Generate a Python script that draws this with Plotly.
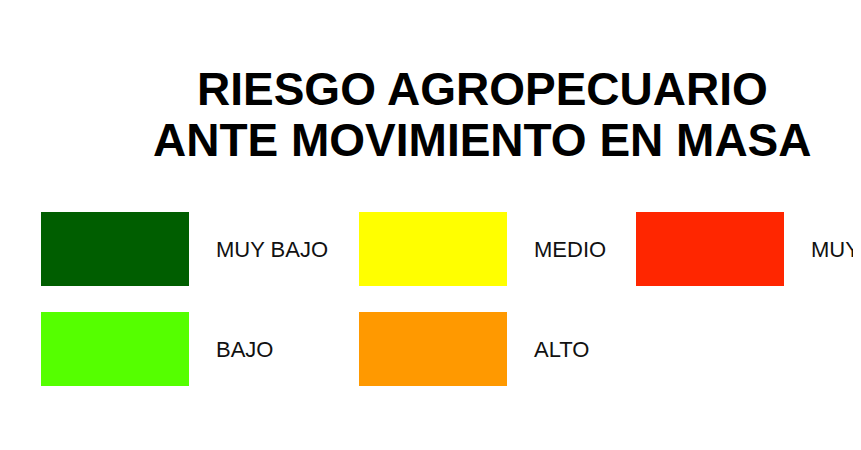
import plotly.graph_objects as go

# ---- data ----
categories = ["MUY BAJO", "BAJO", "MEDIO", "ALTO", "MUY ALTO"]
colors = ["#005E00", "#55FF00", "#FFFF00", "#FF9900", "#FF2600"]
title_lines = ["RIESGO AGROPECUARIO", "ANTE MOVIMIENTO EN MASA"]

# ---- layout constants (screen pixel space; page body has an 8px margin) ----
W, H = 861, 450
OFF = 8
col_left = [41, 359, 636]
row_top = [212, 312]
sw_w, sw_h = 148, 74
label_gap = 27
label_dy = 2

xs, bases, lx, ly = [], [], [], []
for i, cat in enumerate(categories):
    c, r = divmod(i, 2)
    xs.append(col_left[c] + sw_w / 2)
    bases.append(row_top[r])
    lx.append(col_left[c] + sw_w + label_gap)
    ly.append(row_top[r] + sw_h / 2 + label_dy)

fig = go.Figure()
fig.add_trace(go.Bar(
    x=xs, y=[sw_h] * len(categories), base=bases, width=sw_w,
    marker=dict(color=colors, line=dict(width=0)),
    hoverinfo="text", hovertext=categories, showlegend=False,
))
fig.add_trace(go.Scatter(
    x=lx, y=ly, mode="text", text=categories, textposition="middle right",
    textfont=dict(family="Liberation Sans, Arial, sans-serif", size=22, color="#111111"),
    showlegend=False, hoverinfo="skip", cliponaxis=False,
))

title_y = [89, 140]
for t, yy in zip(title_lines, title_y):
    fig.add_annotation(
        x=482.5, y=yy, xref="x", yref="y", text=f"<b>{t}</b>", showarrow=False,
        xanchor="center", yanchor="middle",
        font=dict(family="Liberation Sans, Arial, sans-serif", size=46, color="#000000"),
    )

fig.update_layout(
    width=W - OFF, height=H - 2 * OFF, margin=dict(l=0, r=0, t=0, b=0),
    paper_bgcolor="white", plot_bgcolor="white",
    xaxis=dict(range=[OFF, W], visible=False, fixedrange=True),
    yaxis=dict(range=[H - OFF, OFF], visible=False, fixedrange=True),
    bargap=0,
)
fig.write_html("out.html", config={"displayModeBar": False})
